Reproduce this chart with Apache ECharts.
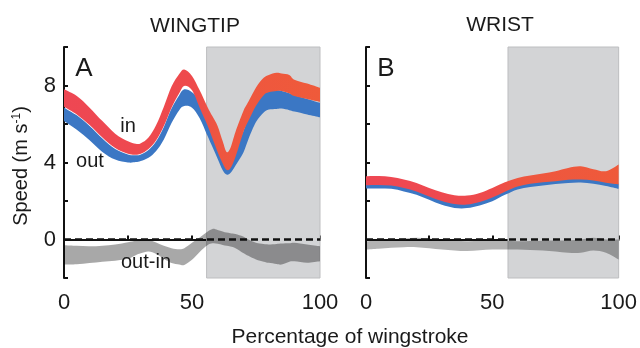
<!DOCTYPE html>
<html><head><meta charset="utf-8">
<script src="https://cdn.jsdelivr.net/npm/echarts@6/dist/echarts.min.js"></script>
<style>html,body{margin:0;padding:0;background:#fff}#c{width:640px;height:348px}</style>
</head><body><div id="c"></div>
<script>
// ---------- DATA ----------
const xA = [0,5,10,15,20,25,28,30,33,36,39,42,45,47,50,53,56,58,60,62,63.5,65,67,70,72,75,78,80,83,85,88,90,95,100];
const inHiA = [7.8,7.45,6.85,6.15,5.5,5.1,4.97,5.0,5.3,5.95,6.9,7.95,8.6,8.83,8.5,7.75,6.9,6.4,5.9,5.1,4.55,4.75,5.6,6.65,7.15,7.9,8.4,8.55,8.66,8.62,8.55,8.3,8.1,7.88];
const inLoA = [6.9,6.5,5.95,5.3,4.75,4.45,4.4,4.45,4.7,5.15,5.9,6.85,7.6,7.98,7.75,6.85,5.95,5.25,4.55,3.95,3.62,3.7,4.3,5.55,6.15,6.95,7.5,7.65,7.72,7.72,7.6,7.45,7.3,7.15];
const outHiA = [6.85,6.45,5.9,5.25,4.7,4.42,4.38,4.42,4.65,5.1,5.85,6.8,7.5,7.8,7.65,7.2,6.2,5.6,5.0,4.4,4.1,4.2,4.65,5.6,6.3,7.1,7.55,7.7,7.75,7.72,7.6,7.5,7.3,7.1];
const outLoA = [6.15,5.7,5.15,4.55,4.15,4.0,4.02,4.08,4.25,4.6,5.2,6.05,6.72,6.93,6.85,6.3,5.4,4.8,4.2,3.6,3.38,3.45,3.85,4.5,5.2,6.1,6.6,6.75,6.78,6.8,6.72,6.65,6.5,6.35];
const diffHiA = [-0.3,-0.33,-0.35,-0.32,-0.26,-0.14,-0.06,-0.03,-0.02,-0.15,-0.33,-0.45,-0.5,-0.45,-0.17,0.1,0.4,0.55,0.5,0.42,0.36,0.33,0.28,0.15,0.0,-0.17,-0.24,-0.26,-0.23,-0.21,-0.2,-0.17,-0.26,-0.35];
const diffLoA = [-1.3,-1.28,-1.22,-1.15,-1.1,-1.0,-0.82,-0.72,-0.62,-0.75,-1.0,-1.22,-1.3,-1.32,-1.05,-0.65,-0.3,-0.2,-0.22,-0.28,-0.32,-0.36,-0.45,-0.7,-0.85,-1.04,-1.15,-1.21,-1.27,-1.3,-1.15,-1.13,-1.21,-1.13];

const xB = [0,5,10,15,20,25,30,35,40,45,50,55,60,65,70,75,80,85,90,95,100];
const inHiB = [3.29,3.3,3.25,3.12,2.94,2.68,2.45,2.3,2.28,2.42,2.68,2.98,3.2,3.33,3.43,3.55,3.72,3.8,3.65,3.55,3.9];
const inLoB = [2.82,2.83,2.8,2.68,2.5,2.24,2.0,1.84,1.82,1.95,2.18,2.48,2.75,2.9,2.98,3.03,3.1,3.12,3.07,2.95,2.86];
const outHiB = [2.95,2.95,2.93,2.8,2.62,2.37,2.12,1.96,1.94,2.07,2.3,2.6,2.85,2.98,3.05,3.1,3.15,3.17,3.12,3.0,2.9];
const outLoB = [2.65,2.65,2.63,2.5,2.33,2.06,1.8,1.64,1.63,1.77,1.99,2.32,2.6,2.73,2.81,2.88,2.94,2.96,2.9,2.78,2.63];
const diffHiB = [-0.09,-0.05,0,0.05,0.09,0.05,0,-0.05,-0.09,-0.07,-0.05,-0.07,-0.09,-0.08,-0.06,-0.05,-0.05,0,0.09,0,0];
const diffLoB = [-0.52,-0.48,-0.43,-0.4,-0.4,-0.45,-0.52,-0.57,-0.6,-0.56,-0.52,-0.52,-0.52,-0.54,-0.57,-0.62,-0.69,-0.69,-0.57,-0.69,-1.04];

const shadeStart = [55.7, 56.2];
const xRange = [0, 100];
const yRange = [-2, 10];
const xTickLabels = [0, 50, 100];
const yTickLabels = [0, 4, 8];
const panelTitles = ['WINGTIP', 'WRIST'];
const panelLetters = ['A', 'B'];

// ---------- CHART ----------
const FONT = "'Liberation Sans', Arial, sans-serif";
const TXT = '#1a1a1a';
const chart = echarts.init(document.getElementById('c'), null, {renderer: 'canvas'});

function redGrad() {
  return new echarts.graphic.LinearGradient(0, 0, 1, 0, [
    {offset: 0, color: '#ee4753'}, {offset: 0.5, color: '#ee4a4c'},
    {offset: 0.6, color: '#ee5640'}, {offset: 1, color: '#ef5a3a'}]);
}

// Catmull-Rom spline through pixel points, as cubic bezier path commands
function crSegs(pts) {
  let d = '';
  const n = pts.length;
  for (let i = 0; i < n - 1; i++) {
    const p0 = pts[Math.max(i - 1, 0)], p1 = pts[i], p2 = pts[i + 1], p3 = pts[Math.min(i + 2, n - 1)];
    const t = 1 / 6;
    const c1x = p1[0] + (p2[0] - p0[0]) * t, c1y = p1[1] + (p2[1] - p0[1]) * t;
    const c2x = p2[0] - (p3[0] - p1[0]) * t, c2y = p2[1] - (p3[1] - p1[1]) * t;
    d += ' C' + c1x + ',' + c1y + ' ' + c2x + ',' + c2y + ' ' + p2[0] + ',' + p2[1];
  }
  return d;
}

function bandSeries(gi, xs, lo, hi, fill, z) {
  return {
    type: 'custom', xAxisIndex: gi, yAxisIndex: gi, z: z, silent: true, animation: false, clip: true,
    data: xs.map((x, i) => [x, lo[i], hi[i]]),
    encode: {x: 0, y: [1, 2]},
    renderItem: function (params, api) {
      if (params.dataIndex !== 0) return null;
      const up = xs.map((x, i) => api.coord([x, hi[i]]));
      const dn = xs.map((x, i) => api.coord([x, lo[i]])).reverse();
      const d = 'M' + up[0][0] + ',' + up[0][1] + crSegs(up) +
        ' L' + dn[0][0] + ',' + dn[0][1] + crSegs(dn) + ' Z';
      return {type: 'path', shape: {pathData: d}, style: {fill: fill}};
    }
  };
}

const grids = [
  {left: 64, top: 47, width: 256, height: 231},
  {left: 366, top: 47, width: 257, height: 231}
];

const axisLineStyle = {color: '#111', width: 2};
const xAxes = [0, 1].map(gi => ({
  type: 'value', gridIndex: gi, min: xRange[0], max: xRange[1], interval: 25,
  axisLine: {show: true, lineStyle: axisLineStyle},
  axisTick: {show: true, inside: true, length: 4, lineStyle: {color: '#111', width: 2}},
  splitLine: {show: false},
  axisLabel: {fontSize: 22, fontFamily: FONT, color: TXT, margin: 14,
    formatter: v => xTickLabels.includes(v) ? String(v) : ''}
}));
const yAxes = [0, 1].map(gi => ({
  type: 'value', gridIndex: gi, min: yRange[0], max: yRange[1], interval: 2,
  axisLine: {show: true, lineStyle: axisLineStyle},
  axisTick: {show: true, inside: true, length: 4, lineStyle: {color: '#111', width: 2}},
  splitLine: {show: false},
  axisLabel: {show: gi === 0, fontSize: 22, fontFamily: FONT, color: TXT, margin: 8,
    formatter: v => yTickLabels.includes(v) ? String(v) : ''}
}));

const series = [];
[0, 1].forEach(gi => {
  series.push({
    type: 'custom', xAxisIndex: gi, yAxisIndex: gi, z: 1, silent: true, animation: false,
    data: [[shadeStart[gi], xRange[1], yRange[0], yRange[1]]],
    encode: {x: [0, 1], y: [2, 3]},
    renderItem: function (params, api) {
      const a = api.coord([api.value(0), api.value(3)]);
      const b = api.coord([api.value(1), api.value(2)]);
      return {type: 'rect', shape: {x: a[0], y: a[1], width: b[0] - a[0], height: b[1] - a[1]},
        style: {fill: '#d3d4d6', stroke: '#bdbec0', lineWidth: 1}};
    }
  });
  series.push({
    type: 'line', xAxisIndex: gi, yAxisIndex: gi, data: [], silent: true, z: 10, animation: false,
    markLine: {silent: true, symbol: 'none', label: {show: false}, animation: false,
      lineStyle: {color: '#111', width: 2.5, type: [7, 4]}, data: [{yAxis: 0}]}
  });
});
series.push(bandSeries(0, xA, diffLoA, diffHiA, 'rgba(0,0,0,0.34)', 3));
series.push(bandSeries(0, xA, outLoA, outHiA, '#3b77c4', 4));
series.push(bandSeries(0, xA, inLoA, inHiA, redGrad(), 5));
series.push(bandSeries(1, xB, diffLoB, diffHiB, 'rgba(0,0,0,0.3)', 3));
series.push(bandSeries(1, xB, outLoB, outHiB, '#3b77c4', 4));
series.push(bandSeries(1, xB, inLoB, inHiB, redGrad(), 5));

function txt(text, x, y, size) {
  return {type: 'text', x: x, y: y, z: 20, silent: true,
    style: {text: text, fontSize: size, fontFamily: FONT, fill: TXT, align: 'center', verticalAlign: 'middle'}};
}

const graphic = [
  txt(panelTitles[0], 195, 26, 21),
  txt(panelTitles[1], 500, 25, 21),
  txt(panelLetters[0], 84, 69, 26),
  txt(panelLetters[1], 386, 69, 26),
  txt('in', 128, 126, 20),
  txt('out', 90, 161, 20),
  txt('out-in', 146, 262, 20),
  txt('Percentage of wingstroke', 350, 337, 21),
  {type: 'text', x: 21, y: 166, rotation: Math.PI / 2, z: 20, silent: true,
    style: {text: 'Speed (m s{sup|-1})', fontSize: 20, fontFamily: FONT, fill: TXT,
      align: 'center', verticalAlign: 'middle',
      rich: {sup: {fontSize: 12, fontFamily: FONT, fill: TXT, verticalAlign: 'top', padding: [0, 0, 8, 0]}}}}
];

chart.setOption({
  animation: false,
  backgroundColor: '#ffffff',
  grid: grids, xAxis: xAxes, yAxis: yAxes, series: series, graphic: graphic
});
</script></body></html>
